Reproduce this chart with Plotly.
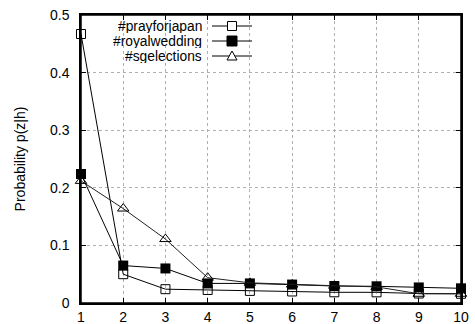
import plotly.graph_objects as go

x_vals = [1, 2, 3, 4, 5, 6, 7, 8, 9, 10]
prayforjapan = [0.467, 0.050, 0.024, 0.0226, 0.021, 0.020, 0.0186, 0.0185, 0.0165, 0.016]
royalwedding = [0.224, 0.065, 0.060, 0.034, 0.034, 0.032, 0.0295, 0.029, 0.027, 0.0255]
sgelections = [0.212, 0.164, 0.111, 0.044, 0.035, 0.032, 0.030, 0.028, 0.016, 0.016]
series_names = ["#prayforjapan", "#royalwedding", "#sgelections"]
y_ticks = [0, 0.1, 0.2, 0.3, 0.4, 0.5]
y_tick_labels = ["0", "0.1", "0.2", "0.3", "0.4", "0.5"]
y_title = "Probability p(z|h)"

FONT = "Liberation Sans, Arial, sans-serif"
W, H = 475, 324
L, R, T, B = 81, 14, 15, 21
PW, PH = W - L - R, H - T - B


def px(xp):
    return (xp - L) / PW


def py(yp):
    return (H - B - yp) / PH


fig = go.Figure()
fig.add_trace(go.Scatter(x=x_vals, y=prayforjapan, mode="lines+markers", name=series_names[0],
                         line=dict(color="black", width=1), cliponaxis=False,
                         marker=dict(symbol="square-open", size=9, color="black", line=dict(width=1))))
fig.add_trace(go.Scatter(x=x_vals, y=royalwedding, mode="lines+markers", name=series_names[1],
                         line=dict(color="black", width=1), cliponaxis=False,
                         marker=dict(symbol="square", size=10, color="black")))
fig.add_trace(go.Scatter(x=x_vals, y=sgelections, mode="lines+markers", name=series_names[2],
                         line=dict(color="#222", width=1), cliponaxis=False,
                         marker=dict(symbol="triangle-up-open", size=10, color="black", line=dict(width=1))))

# manual gnuplot-style legend (top-left, text right-aligned, sample to the right)
leg_y = [26, 41, 56]
shapes = []
annotations = []
x_text_right = 203
sx0, sx1 = 212, 252
cx = (sx0 + sx1) / 2
for i, name in enumerate(series_names):
    annotations.append(dict(x=px(x_text_right), y=py(leg_y[i]), xref="paper", yref="paper",
                            text=name, showarrow=False, xanchor="right", yanchor="middle",
                            height=14, borderpad=0,
                            font=dict(family=FONT, size=13.8, color="black")))
for i in range(3):
    yy = leg_y[i]
    shapes.append(dict(type="line", xref="paper", yref="paper",
                       x0=px(sx0), x1=px(sx1), y0=py(yy), y1=py(yy),
                       line=dict(color="black", width=1)))
s = 4.5
shapes.append(dict(type="rect", xref="paper", yref="paper",
                   x0=px(cx - s), x1=px(cx + s), y0=py(leg_y[0] + s), y1=py(leg_y[0] - s),
                   line=dict(color="black", width=1), fillcolor="white"))
shapes.append(dict(type="rect", xref="paper", yref="paper",
                   x0=px(cx - 5), x1=px(cx + 5), y0=py(leg_y[1] + 5), y1=py(leg_y[1] - 5),
                   line=dict(color="black", width=1), fillcolor="black"))
ty = leg_y[2]
shapes.append(dict(type="path", xref="paper", yref="paper",
                   path=f"M {px(cx-5)} {py(ty+4)} L {px(cx+5)} {py(ty+4)} L {px(cx)} {py(ty-5)} Z",
                   line=dict(color="black", width=1), fillcolor="white"))
# plot border
shapes.append(dict(type="rect", xref="paper", yref="paper", x0=0, x1=1, y0=0, y1=1,
                   line=dict(color="black", width=1.5), layer="below"))

fig.update_layout(
    width=W, height=H,
    margin=dict(l=L, r=R, t=T, b=B),
    paper_bgcolor="white", plot_bgcolor="white",
    showlegend=False,
    font=dict(family=FONT, size=14, color="black"),
    shapes=shapes, annotations=annotations,
)
fig.update_xaxes(range=[1, 10], tickmode="array", tickvals=x_vals, ticktext=[str(v) for v in x_vals],
                 showline=True, linecolor="black", linewidth=1.5, mirror="ticks",
                 ticks="inside", ticklen=5, tickcolor="black", automargin=False,
                 showgrid=True, gridcolor="#b0b0b0", griddash="dot", gridwidth=1,
                 zeroline=False, tickfont=dict(family=FONT, size=14), ticklabelstandoff=0)
fig.update_yaxes(range=[0, 0.5], tickmode="array", tickvals=y_ticks, ticktext=y_tick_labels,
                 showline=True, linecolor="black", linewidth=1.5, mirror="ticks",
                 ticks="inside", ticklen=5, tickcolor="black", automargin=False,
                 showgrid=True, gridcolor="#b0b0b0", griddash="dot", gridwidth=1,
                 zeroline=False, tickfont=dict(family=FONT, size=14), ticklabelstandoff=7,
                 title=dict(text=y_title, font=dict(family=FONT, size=14), standoff=21))

fig.write_html("out.html", config={"displayModeBar": False},
               post_script="document.body.style.margin='0';document.body.style.overflow='hidden';")
